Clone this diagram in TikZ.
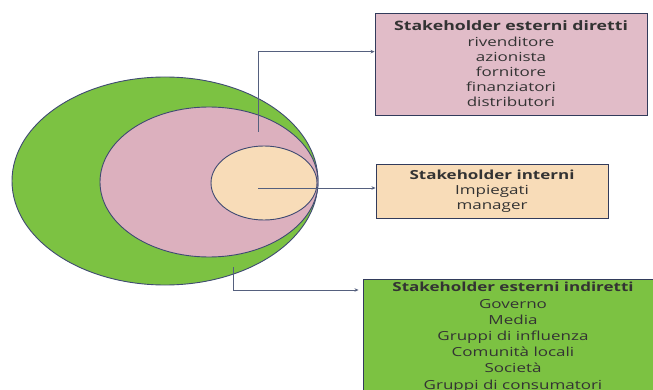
\documentclass[tikz,border=0pt]{standalone}
\usepackage{fontspec}
\setmainfont{Open Sans}[FakeStretch=1.36]
\usetikzlibrary{calc,arrows.meta}
\definecolor{outgreen}{HTML}{7CC242}
\definecolor{midpink}{HTML}{DCB0BE}
\definecolor{inpeach}{HTML}{F8DCB8}
\definecolor{edgeblue}{HTML}{3F4A72}
\definecolor{linegray}{HTML}{55607E}
\tikzset{
  ell/.style={draw=edgeblue, line width=0.9pt},
  box/.style={draw=edgeblue!80!black, line width=0.9pt, align=center, font=\fontsize{12.5}{15.2}\selectfont, text=black!80},
  conn/.style={draw=linegray, line width=0.8pt, -{Stealth[length=4pt,width=3.5pt]}},
}
\begin{document}
\begin{tikzpicture}[x=1pt,y=-1pt]
\useasboundingbox (0,0) rectangle (653,390);
\clip (0,0) rectangle (653,390);
\fill[white] (0,0) rectangle (653,390);
% ellipses
\draw[ell, fill=outgreen] (165,181) ellipse [x radius=153, y radius=104];
\draw[ell, fill=midpink] (209,182) ellipse [x radius=109, y radius=75];
\draw[ell, fill=inpeach] (264,183) ellipse [x radius=53, y radius=37];
% boxes
\node[box, fill=midpink!85!white, minimum width=272, minimum height=102] (b1) at (511,64)
  {{\fontsize{13}{15.2}\selectfont\textbf{Stakeholder esterni diretti}}\\rivenditore\\azionista\\fornitore\\finanziatori\\distributori};
\node[box, fill=inpeach, minimum width=232, minimum height=54] (b2) at (492,191)
  {\textbf{Stakeholder interni}\\Impiegati\\manager};
\node[box, fill=outgreen, minimum width=300, anchor=north, inner ysep=3pt, font=\fontsize{12.5}{16.2}\selectfont] (b3) at (513,279)
  {\textbf{Stakeholder esterni indiretti}\\Governo\\Media\\Gruppi di influenza\\Comunità locali\\Società\\Gruppi di consumatori};
% connector start points
\coordinate (s1) at (258,132);
\coordinate (s2) at (258,188);
\coordinate (s3) at (233,267);
\coordinate (t1) at ($(b1.north west)!0.38!(b1.south west)$);
\coordinate (t3) at ($(b3.north west)+(0,11)$);
\draw[conn] (s1) |- (t1);
\draw[conn] (s2) -- (s2 -| b2.west);
\draw[conn] (s3) |- ($(t3)+(-4,0)$);
\end{tikzpicture}
\end{document}
